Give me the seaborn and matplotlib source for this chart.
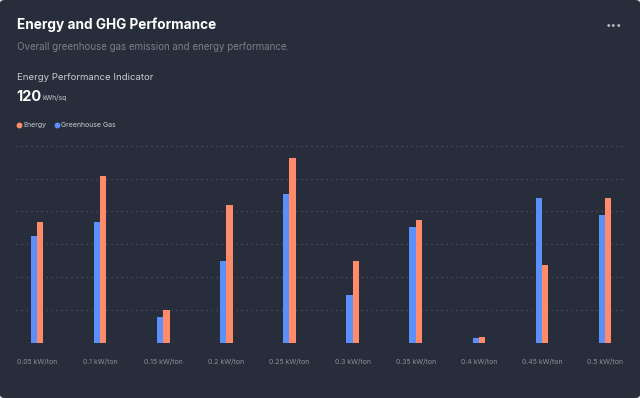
import numpy as np
import pandas as pd
import matplotlib
matplotlib.use("Agg")
import matplotlib.pyplot as plt
import seaborn as sns
from matplotlib.lines import Line2D
from matplotlib.patches import FancyBboxPatch

## Datos

categorias = ["0.05 kW/ton", "0.1 kW/ton", "0.15 kW/ton", "0.2 kW/ton", "0.25 kW/ton",
              "0.3 kW/ton", "0.35 kW/ton", "0.4 kW/ton", "0.45 kW/ton", "0.5 kW/ton"]
ghg = [32.5, 36.7, 8.0, 24.8, 45.3, 14.7, 35.2, 1.6, 44.2, 39.0]
energia = [36.7, 50.7, 10.0, 41.9, 56.2, 24.8, 37.3, 1.7, 23.6, 44.2]

df = pd.DataFrame({
    "categoria": categorias * 2,
    "valor": ghg + energia,
    "serie": ["Greenhouse Gas"] * len(ghg) + ["Energy"] * len(energia),
})

## Colores

fondo = "#272d3a"
azul = "#5b8ff9"
naranja = "#ff8b6a"
gris_grid = "#4d5463"

sns.set_theme(style="dark")
plt.rcParams["font.family"] = ["Inter", "DejaVu Sans"]

fig = plt.figure(figsize=(6.4, 3.98), dpi=100, facecolor="#e9ebee")
fig.patches.append(FancyBboxPatch((0, 0), 1, 1, boxstyle="round,pad=0,rounding_size=0.008",
                                  transform=fig.transFigure, facecolor=fondo, edgecolor="none", zorder=-10))

ax = fig.add_axes([0.025, 55 / 398, 0.95, 203.9 / 398])
ax.set_facecolor("none")

sns.barplot(data=df, x="categoria", y="valor", hue="serie", hue_order=["Greenhouse Gas", "Energy"],
            palette=[azul, naranja], width=0.2, ax=ax, legend=False, saturation=1,
            linewidth=0, zorder=3)

ax.set_xlim(-0.333, 9.30)
ax.set_ylim(0, 62)
ax.set_yticks(np.arange(0, 61, 10))
ax.set_yticklabels([])
ax.grid(axis="y", color=gris_grid, linestyle=(0, (1, 3)), linewidth=0.9, zorder=0)
ax.grid(axis="x", visible=False)
ax.set_xlabel("")
ax.set_ylabel("")
ax.tick_params(axis="x", colors="#8b909b", labelsize=5.0, length=0, pad=11)
ax.tick_params(axis="y", length=0)
for s in ax.spines.values():
    s.set_visible(False)

## Textos de cabecera

fig.text(0.026, 1 - 25 / 398, "Energy and GHG Performance", color="white", fontsize=9.8,
         fontweight="bold", va="center")
fig.text(0.026, 1 - 47 / 398, "Overall greenhouse gas emission and energy performance.",
         color="#7b808c", fontsize=7.0, va="center")
fig.text(0.026, 1 - 77 / 398, "Energy Performance Indicator", color="#c9ccd3", fontsize=6.9, va="center")
fig.text(0.026, 1 - 97 / 398, "120", color="white", fontsize=10.5, fontweight="bold", va="center")
fig.text(0.067, 1 - 98 / 398, "kWh/sq", color="#c9ccd3", fontsize=4.8, va="center")
fig.text(0.96, 1 - 25 / 398, "•••", color="#b8bcc4", fontsize=7, va="center", ha="center")

handles = [Line2D([], [], marker="o", linestyle="", color=naranja, markersize=3.2, label="Energy"),
           Line2D([], [], marker="o", linestyle="", color=azul, markersize=3.2, label="Greenhouse Gas")]
leg = fig.legend(handles=handles, loc="center left", bbox_to_anchor=(0.015, 1 - 125 / 398), ncol=2,
                 frameon=False, fontsize=5.0, handletextpad=0.1, columnspacing=1.0, handlelength=1.0)
for t in leg.get_texts():
    t.set_color("#c9ccd3")

plt.savefig("out.png", dpi=100, facecolor=fig.get_facecolor())
